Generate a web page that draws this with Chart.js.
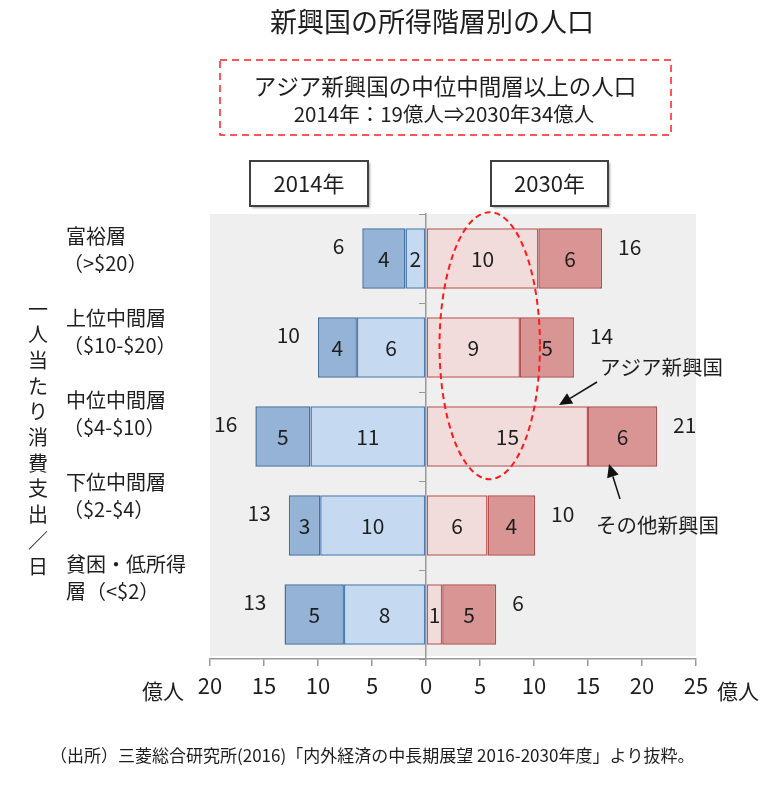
<!DOCTYPE html>
<html>
<head>
<meta charset="utf-8">
<title>新興国の所得階層別の人口</title>
<script src="https://cdn.jsdelivr.net/npm/chart.js@4.4.1/dist/chart.umd.min.js"></script>
<style>
body { margin: 0; background: #fff; }
#wrap { width: 760px; height: 785px; position: relative; }
</style>
</head>
<body>
<div id="wrap"><canvas id="popChart"></canvas></div>
<script>
// categories (top to bottom) and their two-line labels
var categories = ['富裕層', '上位中間層', '中位中間層', '下位中間層', '貧困・低所得層'];
var catLine1 = ['富裕層', '上位中間層', '中位中間層', '下位中間層', '貧困・低所得'];
var catLine2 = ['（>$20）', '（$10-$20）', '（$4-$10）', '（$2-$4）', '層（<$2）'];

// 億人 (2014 drawn to the left as negatives)
var asia2014 = [1.9, 6.4, 10.7, 9.8, 7.6];
var other2014 = [4.0, 3.6, 5.1, 2.9, 5.5];
var asia2030 = [10.4, 8.7, 15.0, 5.7, 1.5];
var other2030 = [5.9, 5.0, 6.4, 4.4, 5.0];

// printed figures
var asia2014Lbl = ['2', '6', '11', '10', '8'];
var other2014Lbl = ['4', '4', '5', '3', '5'];
var asia2030Lbl = ['10', '9', '15', '6', '1'];
var other2030Lbl = ['6', '5', '6', '4', '5'];
var total2014Lbl = ['6', '10', '16', '13', '13'];
var total2030Lbl = ['16', '14', '21', '10', '6'];

var xTicks = [-20, -15, -10, -5, 0, 5, 10, 15, 20, 25];

var FONT = '"Noto Sans CJK JP", "Noto Sans", sans-serif';
var TXT = '#1e1e1e';

function neg(arr) {
    return arr.map(function (v) { return -v; });
}

function drawArrow(ctx, x1, y1, x2, y2) {
    var ang = Math.atan2(y2 - y1, x2 - x1);
    var len = 13, half = 6;
    var bx = x2 - len * Math.cos(ang), by = y2 - len * Math.sin(ang);
    ctx.save();
    ctx.strokeStyle = '#111';
    ctx.fillStyle = '#111';
    ctx.lineWidth = 1.5;
    ctx.setLineDash([]);
    ctx.beginPath();
    ctx.moveTo(x1, y1);
    ctx.lineTo(bx, by);
    ctx.stroke();
    ctx.beginPath();
    ctx.moveTo(x2, y2);
    ctx.lineTo(bx + half * Math.sin(ang), by - half * Math.cos(ang));
    ctx.lineTo(bx - half * Math.sin(ang), by + half * Math.cos(ang));
    ctx.closePath();
    ctx.fill();
    ctx.restore();
}

function yearBox(ctx, x, y, w, h, text) {
    ctx.save();
    ctx.shadowColor = 'rgba(0,0,0,0.35)';
    ctx.shadowOffsetX = 1.5;
    ctx.shadowOffsetY = 1.5;
    ctx.shadowBlur = 2;
    ctx.fillStyle = '#fff';
    ctx.fillRect(x, y, w, h);
    ctx.shadowColor = 'transparent';
    ctx.strokeStyle = '#404040';
    ctx.lineWidth = 2;
    ctx.strokeRect(x, y, w, h);
    ctx.fillStyle = TXT;
    ctx.font = '22px ' + FONT;
    ctx.textAlign = 'center';
    ctx.textBaseline = 'middle';
    ctx.fillText(text, x + w / 2, y + h / 2);
    ctx.restore();
}

var bgPlugin = {
    id: 'bgPlugin',
    beforeDraw: function (chart) {
        var ctx = chart.ctx, a = chart.chartArea;
        ctx.save();
        ctx.fillStyle = '#fff';
        ctx.fillRect(0, 0, chart.width, chart.height);
        ctx.fillStyle = '#efefef';
        ctx.fillRect(a.left, a.top, a.right - a.left, a.bottom - a.top - 3);
        ctx.restore();
    }
};

var labelPlugin = {
    id: 'labelPlugin',
    afterDatasetsDraw: function (chart) {
        var ctx = chart.ctx;
        var lbls = [asia2014Lbl, other2014Lbl, asia2030Lbl, other2030Lbl];
        ctx.save();
        ctx.font = '21px ' + FONT;
        ctx.fillStyle = TXT;
        ctx.textBaseline = 'middle';
        ctx.textAlign = 'center';
        chart.data.datasets.forEach(function (ds, di) {
            chart.getDatasetMeta(di).data.forEach(function (bar, i) {
                ctx.fillText(lbls[di][i], (bar.x + bar.base) / 2, bar.y + 1);
            });
        });
        // totals outside the bars
        var outer14 = chart.getDatasetMeta(1).data;
        var outer30 = chart.getDatasetMeta(3).data;
        for (var i = 0; i < categories.length; i++) {
            ctx.textAlign = 'right';
            ctx.fillText(total2014Lbl[i], outer14[i].x - 18, outer14[i].y - 12);
            ctx.textAlign = 'left';
            ctx.fillText(total2030Lbl[i], outer30[i].x + 16, outer30[i].y - 11);
        }
        ctx.restore();
    },
    afterDraw: function (chart) {
        var ctx = chart.ctx;
        var xs = chart.scales.x, ys = chart.scales.y;
        ctx.save();
        ctx.fillStyle = TXT;
        ctx.textBaseline = 'middle';

        // title
        ctx.textAlign = 'center';
        ctx.font = '27px ' + FONT;
        ctx.fillText('新興国の所得階層別の人口', 432, 22);

        // dashed call-out box
        ctx.strokeStyle = '#ff2020';
        ctx.lineWidth = 1.5;
        ctx.setLineDash([7, 5]);
        ctx.strokeRect(220, 60, 451, 75);
        ctx.setLineDash([]);
        ctx.font = '22.5px ' + FONT;
        ctx.fillText('アジア新興国の中位中間層以上の人口', 445, 86);
        ctx.font = '20.5px ' + FONT;
        ctx.fillText('2014年：19億人⇒2030年34億人', 444, 114);

        yearBox(ctx, 250, 161, 118, 45, '2014年');
        yearBox(ctx, 491, 161, 117, 45, '2030年');

        // category labels
        ctx.fillStyle = TXT;
        ctx.textAlign = 'left';
        ctx.font = '20px ' + FONT;
        for (var i = 0; i < categories.length; i++) {
            ctx.fillText(catLine1[i], 66, 236 + i * 82);
            ctx.fillText(catLine2[i], i === 4 ? 66 : 63, 263 + i * 82);
        }

        // vertical axis title, upright characters
        var vt = '一人当たり消費支出／日';
        ctx.textAlign = 'center';
        ctx.font = '20px ' + FONT;
        for (var k = 0; k < vt.length; k++) {
            ctx.fillText(vt.charAt(k), 38, 309 + k * 25.7);
        }

        // unit labels beside the x ticks
        ctx.font = '21px ' + FONT;
        ctx.textAlign = 'left';
        ctx.fillText('億人', 142, 691);
        ctx.fillText('億人', 717, 691);

        // source note
        ctx.font = '17px ' + FONT;
        ctx.fillText('（出所）三菱総合研究所(2016)「内外経済の中長期展望 2016-2030年度」より抜粋。', 50, 756);

        // red ellipse round the Asian 2030 bars
        var cx = xs.getPixelForValue(5.9);
        var rx = xs.getPixelForValue(10.55) - cx;
        var top = ys.getPixelForValue(-0.52);
        var bot = ys.getPixelForValue(2.48);
        ctx.strokeStyle = '#ff1a1a';
        ctx.lineWidth = 2;
        ctx.setLineDash([6, 4]);
        ctx.beginPath();
        ctx.ellipse(cx, (top + bot) / 2, rx, (bot - top) / 2, 0, 0, Math.PI * 2);
        ctx.stroke();
        ctx.setLineDash([]);

        // annotations
        ctx.fillStyle = TXT;
        ctx.font = '20.5px ' + FONT;
        ctx.textAlign = 'left';
        ctx.fillText('アジア新興国', 600, 367);
        ctx.fillText('その他新興国', 596, 525);
        drawArrow(ctx, 597, 382, 559, 405);
        drawArrow(ctx, 620, 499, 609, 464);

        ctx.restore();
    }
};

var ctx = document.getElementById('popChart');

var popChart = new Chart(ctx, {
    type: 'bar',
    data: {
        labels: categories,
        datasets: [{
                label: 'アジア新興国 2014',
                data: neg(asia2014),
                backgroundColor: '#c5d9f0',
                borderColor: '#4e7db5'
            }, {
                label: 'その他新興国 2014',
                data: neg(other2014),
                backgroundColor: '#94b3d6',
                borderColor: '#43709f'
            }, {
                label: 'アジア新興国 2030',
                data: asia2030,
                backgroundColor: '#f2dcdb',
                borderColor: '#bd5c5a'
            }, {
                label: 'その他新興国 2030',
                data: other2030,
                backgroundColor: '#d99594',
                borderColor: '#b24e4c'
            }]
    },
    options: {
        indexAxis: 'y',
        responsive: true,
        maintainAspectRatio: false,
        animation: false,
        datasets: {
            bar: {
                borderWidth: 1.5,
                borderSkipped: false,
                categoryPercentage: 1,
                barPercentage: 0.68
            }
        },
        layout: {
            padding: {left: 210, right: 64, top: 214, bottom: 76}
        },
        plugins: {
            legend: {display: false},
            tooltip: {enabled: false}
        },
        scales: {
            x: {
                stacked: true,
                min: -20,
                max: 25,
                afterBuildTicks: function (scale) {
                    scale.ticks = xTicks.map(function (v) { return {value: v}; });
                },
                ticks: {
                    callback: function (v) { return Math.abs(v); },
                    font: {family: FONT, size: 22},
                    color: TXT,
                    padding: 6,
                    maxRotation: 0,
                    autoSkip: false
                },
                grid: {drawOnChartArea: false, drawTicks: true, tickLength: 7, color: '#999', lineWidth: 1.5},
                border: {display: true, color: '#999', width: 1.5},
                afterFit: function (scale) { scale.height = 50; }
            },
            y: {
                stacked: true,
                position: {x: 0},
                ticks: {display: false},
                grid: {drawOnChartArea: false, drawTicks: true, tickLength: 6, color: '#999', offset: true},
                border: {display: true, color: '#999', width: 1.5}
            }
        }
    },
    plugins: [bgPlugin, labelPlugin]
});
</script>
</body>
</html>
